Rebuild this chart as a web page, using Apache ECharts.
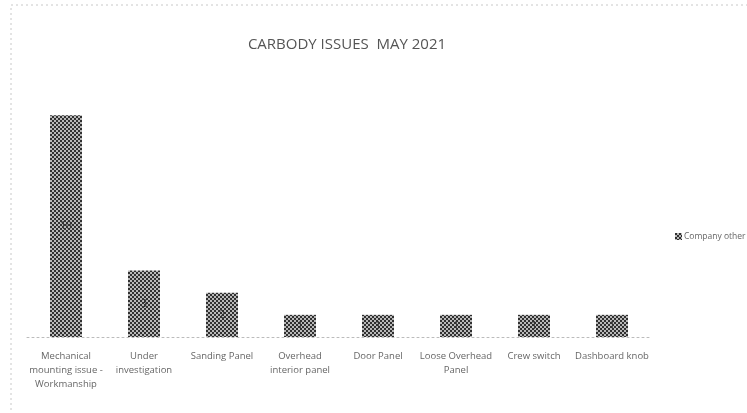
<!DOCTYPE html>
<html><head><meta charset="utf-8">
<script src="https://cdn.jsdelivr.net/npm/echarts@6/dist/echarts.min.js"></script>
<style>html,body{margin:0;padding:0;background:#fff}#c{width:747px;height:413px}</style>
</head><body><div id="c"></div>
<script>
const categories = ["Mechanical\nmounting issue -\nWorkmanship", "Under\ninvestigation", "Sanding Panel", "Overhead\ninterior panel", "Door Panel", "Loose Overhead\nPanel", "Crew switch", "Dashboard knob"];
const values = [10, 3, 2, 1, 1, 1, 1, 1];
const seriesName = "Company other";
const titleText = "CARBODY ISSUES  MAY 2021";

function pattern() {
  const c = document.createElement('canvas');
  c.width = 4; c.height = 4;
  const g = c.getContext('2d');
  g.fillStyle = '#b8b8b8'; g.fillRect(0,0,4,4);
  g.fillStyle = '#303030';
  g.fillRect(0,0,2,2); g.fillRect(2,2,2,2);
  return c;
}
const pat = {image: pattern(), repeat: 'repeat'};

const chart = echarts.init(document.getElementById('c'), null, {renderer:'canvas'});
chart.setOption({
  animation: false,
  title: {text: titleText, left: 342, top: 32, textAlign: 'center',
    textStyle: {fontFamily: 'Open Sans', fontWeight: 'normal', fontSize: 15, color: '#555'}},
  graphic: [{type: 'rect', shape: {x: 11, y: 5, width: 760, height: 430},
    style: {fill: 'none', stroke: '#c8c8c8', lineWidth: 1, lineDash: [2, 3]}, silent: true}],
  legend: {left: 670, top: 227, itemWidth: 7, itemHeight: 7, icon: 'rect',
    data: [{name: seriesName, itemStyle: {color: pat}}],
    textStyle: {fontFamily: 'Open Sans', fontSize: 8.5, color: '#666', padding: [0,0,0,-3]}, itemGap: 2},
  grid: {left: 27, right: 96, top: 71, bottom: 76},
  xAxis: {type: 'category', data: categories,
    axisLine: {lineStyle: {color: '#bbb', type: [2, 3]}}, axisTick: {show: false},
    axisLabel: {interval: 0, fontFamily: 'Open Sans', fontSize: 9.5, color: '#666', lineHeight: 14, margin: 12}},
  yAxis: {type: 'value', min: 0, max: 12, show: false, splitLine: {show: false}},
  series: [{name: seriesName, type: 'bar', data: values, barWidth: 32,
    itemStyle: {color: pat},
    label: {show: true, position: 'inside', fontFamily: 'Open Sans', fontSize: 10, color: '#333'}}]
});
</script></body></html>
